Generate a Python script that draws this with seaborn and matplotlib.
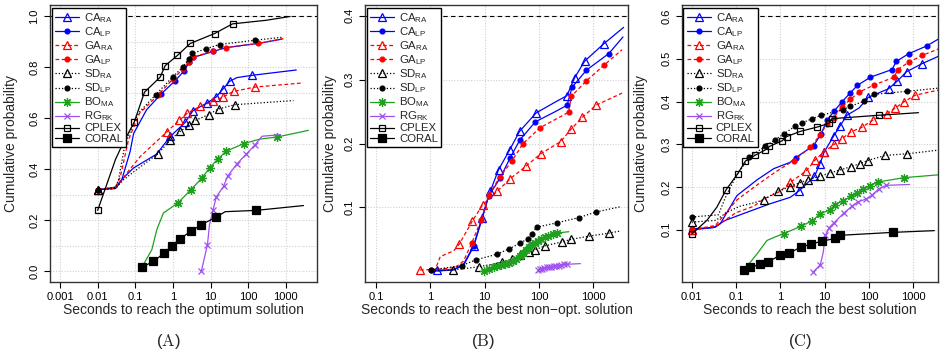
import matplotlib
matplotlib.use("Agg")
import matplotlib.pyplot as plt
from matplotlib.lines import Line2D
from matplotlib.ticker import FixedLocator, NullLocator
import seaborn as sns

# ---------------- data ----------------
series_names = ["CA_RA", "CA_LP", "GA_RA", "GA_LP", "SD_RA", "SD_LP", "BO_MA", "RG_RK", "CPLEX", "CORAL"]
legend_labels = [r"CA$_{RA}$", r"CA$_{LP}$", r"GA$_{RA}$", r"GA$_{LP}$", r"SD$_{RA}$",
                 r"SD$_{LP}$", r"BO$_{MA}$", r"RG$_{RK}$", "CPLEX", "CORAL"]

# (A) seconds to reach the optimum solution
a_ca_ra_x = [0.01, 0.03, 0.044, 0.089, 0.37, 0.85, 2.12, 3.4, 8.0, 14.2, 21.3, 32, 50, 126, 1900]
a_ca_ra_y = [0.32, 0.325, 0.36, 0.405, 0.46, 0.529, 0.584, 0.630, 0.660, 0.684, 0.715, 0.745, 0.76, 0.769, 0.79]
a_ca_ra_m = [0, 5, 6, 7, 8, 9, 10, 11, 13]
a_ca_lp_x = [0.01, 0.03, 0.044, 0.073, 0.09, 0.2, 0.49, 1.15, 2.0, 2.7, 3.4, 12, 26, 182, 790]
a_ca_lp_y = [0.32, 0.33, 0.36, 0.47, 0.54, 0.634, 0.696, 0.748, 0.787, 0.821, 0.839, 0.863, 0.878, 0.894, 0.911]
a_ca_lp_m = [0, 6, 7, 8, 9, 10, 11]
a_ga_ra_x = [0.01, 0.03, 0.06, 0.135, 0.69, 1.47, 2.44, 5.3, 12, 21.4, 41, 155, 2700]
a_ga_ra_y = [0.32, 0.325, 0.386, 0.45, 0.547, 0.592, 0.621, 0.647, 0.667, 0.684, 0.706, 0.723, 0.739]
a_ga_ra_m = [0, 4, 5, 6, 7, 8, 9, 10, 11]
a_ga_lp_x = [0.01, 0.03, 0.04, 0.066, 0.13, 0.41, 1.02, 1.88, 2.7, 3.4, 12, 26, 182, 860]
a_ga_lp_y = [0.32, 0.33, 0.37, 0.516, 0.62, 0.693, 0.756, 0.795, 0.822, 0.84, 0.865, 0.878, 0.894, 0.913]
a_ga_lp_m = [0, 5, 6, 7, 8, 9, 10, 11, 12]
a_sd_ra_x = [0.01, 0.03, 0.045, 0.1, 0.41, 0.85, 1.56, 2.7, 3.9, 8.9, 16.3, 45, 1600]
a_sd_ra_y = [0.32, 0.325, 0.355, 0.395, 0.462, 0.516, 0.549, 0.573, 0.592, 0.615, 0.637, 0.654, 0.67]
a_sd_ra_m = [0, 4, 5, 6, 7, 8, 9, 10, 11]
a_sd_lp_x = [0.01, 0.03, 0.036, 0.054, 0.12, 0.35, 0.98, 1.85, 2.6, 3.3, 7.5, 17.4, 155, 870]
a_sd_lp_y = [0.32, 0.33, 0.36, 0.503, 0.62, 0.693, 0.762, 0.802, 0.833, 0.855, 0.873, 0.89, 0.907, 0.919]
a_sd_lp_m = [0, 5, 6, 7, 8, 9, 10, 11, 12]
a_bo_ma_x = [0.15, 0.276, 0.375, 0.56, 1.36, 3.0, 5.9, 9.4, 15.8, 26, 76, 209, 585, 4000]
a_bo_ma_y = [0.016, 0.085, 0.164, 0.229, 0.268, 0.32, 0.366, 0.405, 0.441, 0.471, 0.501, 0.519, 0.527, 0.553]
a_bo_ma_m = [0, 4, 5, 6, 7, 8, 9, 10, 12]
a_rg_rk_x = [5.7, 8.3, 9.4, 11.6, 14.2, 22.2, 28.4, 50, 89, 154, 233, 710]
a_rg_rk_y = [0.0, 0.105, 0.183, 0.239, 0.292, 0.333, 0.373, 0.421, 0.46, 0.497, 0.53, 0.536]
a_rg_rk_m = [0, 1, 3, 4, 5, 6, 7, 8, 9]
a_cplex_x = [0.01, 0.03, 0.05, 0.093, 0.176, 0.459, 0.624, 1.32, 2.89, 12.8, 38.5, 300, 1300]
a_cplex_y = [0.239, 0.44, 0.51, 0.584, 0.703, 0.762, 0.807, 0.847, 0.894, 0.933, 0.971, 0.985, 1.0]
a_cplex_m = [0, 3, 4, 5, 6, 7, 8, 9, 10]
a_coral_x = [0.15, 0.305, 0.59, 0.94, 1.56, 3.0, 5.7, 14.2, 24.6, 162, 2960]
a_coral_y = [0.016, 0.039, 0.072, 0.101, 0.128, 0.157, 0.183, 0.213, 0.234, 0.239, 0.258]
a_coral_m = [0, 1, 2, 3, 4, 5, 6, 7, 9]

# (B) seconds to reach the best non-optimal solution
b_ca_ra_x = [1.05, 1.36, 2.6, 4.1, 6.3, 8.95, 12.7, 18.1, 28.9, 44, 89, 200, 328, 454, 695, 1550, 3630]
b_ca_ra_y = [0.0, 0.002, 0.002, 0.011, 0.04, 0.084, 0.125, 0.159, 0.19, 0.219, 0.248, 0.265, 0.275, 0.303, 0.329, 0.356, 0.382]
b_ca_ra_m = [1, 4, 5, 6, 7, 8, 9, 10, 12, 13, 14, 15]
b_ca_lp_x = [1.05, 2.6, 4.1, 6.3, 8.95, 11.9, 19.4, 29.7, 45, 86, 200, 330, 407, 750, 1940, 3530]
b_ca_lp_y = [0.0, 0.002, 0.009, 0.039, 0.081, 0.118, 0.146, 0.178, 0.206, 0.234, 0.25, 0.26, 0.288, 0.315, 0.341, 0.367]
b_ca_lp_m = [3, 5, 6, 7, 8, 9, 11, 12, 13, 14]
b_ga_ra_x = [0.65, 1.24, 1.53, 2.7, 3.46, 5.9, 9.2, 16.9, 29.7, 58.6, 108, 251, 395, 631, 1120, 3390]
b_ga_ra_y = [0.002, 0.003, 0.023, 0.032, 0.043, 0.078, 0.104, 0.125, 0.145, 0.165, 0.184, 0.203, 0.223, 0.241, 0.26, 0.279]
b_ga_ra_m = [0, 4, 5, 6, 7, 8, 9, 10, 11, 12, 13, 14]
b_ga_lp_x = [1.03, 2.9, 4.1, 5.8, 8.7, 11.9, 18.9, 32, 51, 106, 352, 395, 746, 1590, 3390]
b_ga_lp_y = [0.002, 0.006, 0.016, 0.044, 0.081, 0.119, 0.147, 0.173, 0.2, 0.225, 0.249, 0.274, 0.298, 0.323, 0.347]
b_ga_lp_m = [0, 3, 4, 5, 6, 7, 8, 9, 10, 11, 12, 13]
b_sd_ra_x = [1.05, 2.6, 7.8, 21, 32, 45, 65, 86, 131, 267, 390, 850, 1990, 3160]
b_sd_ra_y = [0.0, 0.002, 0.007, 0.014, 0.019, 0.025, 0.03, 0.034, 0.04, 0.046, 0.05, 0.055, 0.06, 0.063]
b_sd_ra_m = [1, 2, 3, 4, 5, 6, 7, 8, 9, 10, 11, 12]
b_sd_lp_x = [1.03, 3.84, 7.0, 17.3, 28, 45, 62, 75, 91, 216, 540, 1140, 3160]
b_sd_lp_y = [0.002, 0.009, 0.018, 0.027, 0.035, 0.044, 0.051, 0.059, 0.069, 0.076, 0.084, 0.093, 0.101]
b_sd_lp_m = [0, 1, 2, 3, 4, 5, 6, 7, 8, 9, 10, 11]
b_bo_ma_x = [9.6, 12, 15, 17, 20, 24, 28, 33, 38, 45, 50, 58, 66, 75, 85, 95, 110, 130, 150, 180, 220, 355]
b_bo_ma_y = [0.0, 0.003, 0.006, 0.008, 0.01, 0.012, 0.013, 0.016, 0.02, 0.024, 0.028, 0.033, 0.038,
             0.042, 0.045, 0.047, 0.05, 0.054, 0.056, 0.058, 0.06, 0.062]
b_bo_ma_m = list(range(21))
b_rg_rk_x = [95, 105, 115, 125, 140, 155, 170, 190, 210, 235, 260, 290, 330, 580]
b_rg_rk_y = [0.002, 0.003, 0.004, 0.005, 0.006, 0.006, 0.007, 0.008, 0.008, 0.009, 0.01, 0.011, 0.011, 0.012]
b_rg_rk_m = list(range(13))

# (C) seconds to reach the best solution
c_ca_ra_x = [0.01, 0.031, 0.057, 0.177, 0.59, 1.68, 2.64, 5.9, 7.9, 9.8, 15.9, 22.6, 32, 60, 97, 278, 437, 710, 1600, 4100]
c_ca_ra_y = [0.1, 0.105, 0.122, 0.141, 0.161, 0.176, 0.191, 0.225, 0.255, 0.282, 0.319, 0.344, 0.368, 0.385,
             0.41, 0.43, 0.448, 0.47, 0.489, 0.508]
c_ca_ra_m = [0, 6, 7, 8, 9, 10, 11, 12, 14, 15, 16, 17, 18]
c_ca_lp_x = [0.01, 0.034, 0.044, 0.105, 0.3, 0.71, 1.68, 2.24, 5.65, 8.2, 11.3, 16.5, 25, 37, 55, 108, 333,
             415, 790, 2000, 4100]
c_ca_lp_y = [0.102, 0.106, 0.114, 0.18, 0.217, 0.243, 0.258, 0.269, 0.297, 0.323, 0.356, 0.378, 0.4, 0.419,
             0.438, 0.457, 0.475, 0.494, 0.512, 0.53, 0.549]
c_ca_lp_m = [0, 7, 8, 9, 10, 11, 12, 13, 14, 15, 16, 17, 18, 19]
c_ga_ra_x = [0.01, 0.035, 0.1, 0.25, 0.42, 1.0, 1.68, 3.86, 6.2, 9.6, 16.5, 24.7, 39, 70, 123, 258, 395, 630, 1120, 4100]
c_ga_ra_y = [0.1, 0.108, 0.14, 0.155, 0.172, 0.19, 0.211, 0.238, 0.264, 0.282, 0.3, 0.313, 0.329, 0.34,
             0.357, 0.372, 0.385, 0.4, 0.415, 0.428]
c_ga_ra_m = [0, 6, 7, 8, 9, 10, 11, 12, 13, 14, 15, 16, 17, 18]
c_ga_lp_x = [0.01, 0.034, 0.105, 0.3, 0.77, 2.0, 4.75, 7.8, 11.3, 16, 24.7, 38, 60, 131, 370, 450, 790, 1590, 4100]
c_ga_lp_y = [0.1, 0.11, 0.17, 0.205, 0.235, 0.262, 0.293, 0.321, 0.348, 0.362, 0.387, 0.405, 0.422, 0.439,
             0.457, 0.475, 0.492, 0.508, 0.525]
c_ga_lp_m = [0, 5, 6, 7, 8, 9, 10, 11, 12, 13, 14, 15, 16, 17]
c_sd_ra_x = [0.01, 0.035, 0.06, 0.12, 0.25, 0.42, 0.87, 1.68, 2.73, 4.2, 7.7, 13.4, 22.6, 39.5, 64, 93, 235, 740, 3460]
c_sd_ra_y = [0.118, 0.122, 0.14, 0.155, 0.163, 0.17, 0.19, 0.201, 0.21, 0.217, 0.225, 0.233, 0.24, 0.248,
             0.255, 0.262, 0.274, 0.278, 0.286]
c_sd_ra_m = [0, 5, 6, 7, 8, 9, 10, 11, 12, 13, 14, 15, 16, 17]
c_sd_lp_x = [0.01, 0.04, 0.06, 0.1, 0.2, 0.45, 0.75, 1.23, 2.2, 3.1, 5.2, 8.4, 26, 38, 79, 132, 725, 4100]
c_sd_lp_y = [0.13, 0.135, 0.18, 0.225, 0.27, 0.295, 0.31, 0.325, 0.343, 0.35, 0.36, 0.368, 0.381, 0.389,
             0.401, 0.417, 0.424, 0.432]
c_sd_lp_m = [0, 4, 5, 6, 7, 8, 9, 10, 11, 12, 13, 14, 15, 16]
c_bo_ma_x = [0.149, 0.3, 0.5, 0.75, 1.2, 2.87, 5.3, 7.8, 13.4, 17, 26, 40, 55, 74, 107, 163, 630, 4100]
c_bo_ma_y = [0.005, 0.044, 0.075, 0.083, 0.091, 0.108, 0.121, 0.137, 0.147, 0.159, 0.168, 0.178, 0.187,
             0.195, 0.203, 0.212, 0.222, 0.229]
c_bo_ma_m = [4, 5, 6, 7, 8, 9, 10, 11, 12, 13, 14, 15, 16]
c_rg_rk_x = [5.5, 8.0, 9.3, 10.4, 12.7, 16.5, 27.8, 41, 56, 87, 117, 167, 246, 830]
c_rg_rk_y = [0.001, 0.018, 0.047, 0.087, 0.105, 0.117, 0.14, 0.155, 0.165, 0.172, 0.181, 0.196, 0.204, 0.206]
c_rg_rk_m = [0, 1, 3, 4, 5, 6, 7, 8, 9, 10, 11, 12]
c_cplex_x = [0.01, 0.022, 0.037, 0.06, 0.109, 0.163, 0.266, 0.46, 0.57, 1.09, 1.39, 2.77, 6.6, 12.5, 14.7, 166, 1320]
c_cplex_y = [0.09, 0.122, 0.153, 0.194, 0.231, 0.261, 0.274, 0.287, 0.295, 0.308, 0.318, 0.33, 0.34, 0.349,
             0.36, 0.368, 0.374]
c_cplex_m = [0, 3, 4, 5, 6, 7, 8, 9, 10, 11, 12, 13, 14, 15]
c_coral_x = [0.151, 0.21, 0.34, 0.54, 0.96, 1.54, 3.0, 5.06, 8.6, 17.5, 21.7, 355, 3000]
c_coral_y = [0.005, 0.012, 0.019, 0.025, 0.04, 0.045, 0.06, 0.067, 0.073, 0.08, 0.087, 0.094, 0.098]
c_coral_m = list(range(12))

# ---------------- styles ----------------
BLUE, RED, GREEN, PURPLE = "#0000FF", "#FF0000", "#1FA01F", "#A050EE"
DOT = (0, (1, 1.6))
DASH = (0, (3, 2))
styles = {
    "CA_RA": dict(color=BLUE, ls="-", marker="^", filled=False, ms=5.5),
    "CA_LP": dict(color=BLUE, ls="-", marker="o", filled=True, ms=3.5),
    "GA_RA": dict(color=RED, ls=DASH, marker="^", filled=False, ms=5.5),
    "GA_LP": dict(color=RED, ls=DASH, marker="o", filled=True, ms=3.5),
    "SD_RA": dict(color="black", ls=DOT, marker="^", filled=False, ms=5.5),
    "SD_LP": dict(color="black", ls=DOT, marker="o", filled=True, ms=3.5),
    "BO_MA": dict(color=GREEN, ls="-", marker=(8, 2, 0), filled=True, ms=6.5),
    "RG_RK": dict(color=PURPLE, ls="-", marker="x", filled=True, ms=5),
    "CPLEX": dict(color="black", ls="-", marker="s", filled=False, ms=4.5),
    "CORAL": dict(color="black", ls="-", marker="s", filled=True, ms=5.5),
}

panels = [
    dict(tag="(A)", tag_x=168, pos=(50, 267),
         xlabel="Seconds to reach the optimum solution",
         xlim=(10 ** -3.266, 10 ** 3.83), ylim=(-0.04, 1.045),
         xticks=[1e-3, 1e-2, 1e-1, 1, 10, 100, 1000],
         xlabels=["0.001", "0.01", "0.1", "1", "10", "100", "1000"],
         yticks=[0.0, 0.2, 0.4, 0.6, 0.8, 1.0], ygrid=[i / 10 for i in range(11)], ref=1.0, ylab_x=-0.12,
         data={"CA_RA": (a_ca_ra_x, a_ca_ra_y, a_ca_ra_m), "CA_LP": (a_ca_lp_x, a_ca_lp_y, a_ca_lp_m),
               "GA_RA": (a_ga_ra_x, a_ga_ra_y, a_ga_ra_m), "GA_LP": (a_ga_lp_x, a_ga_lp_y, a_ga_lp_m),
               "SD_RA": (a_sd_ra_x, a_sd_ra_y, a_sd_ra_m), "SD_LP": (a_sd_lp_x, a_sd_lp_y, a_sd_lp_m),
               "BO_MA": (a_bo_ma_x, a_bo_ma_y, a_bo_ma_m), "RG_RK": (a_rg_rk_x, a_rg_rk_y, a_rg_rk_m),
               "CPLEX": (a_cplex_x, a_cplex_y, a_cplex_m), "CORAL": (a_coral_x, a_coral_y, a_coral_m)}),
    dict(tag="(B)", tag_x=483, pos=(365, 263),
         xlabel="Seconds to reach the best non\u2212opt. solution",
         xlim=(10 ** -1.2, 10 ** 3.64), ylim=(-0.016, 0.417),
         xticks=[0.1, 1, 10, 100, 1000], xlabels=["0.1", "1", "10", "100", "1000"],
         yticks=[0.1, 0.2, 0.3, 0.4], ygrid=[0.1, 0.2, 0.3, 0.4], ref=0.4, ylab_x=-0.108,
         data={"CA_RA": (b_ca_ra_x, b_ca_ra_y, b_ca_ra_m), "CA_LP": (b_ca_lp_x, b_ca_lp_y, b_ca_lp_m),
               "GA_RA": (b_ga_ra_x, b_ga_ra_y, b_ga_ra_m), "GA_LP": (b_ga_lp_x, b_ga_lp_y, b_ga_lp_m),
               "SD_RA": (b_sd_ra_x, b_sd_ra_y, b_sd_ra_m), "SD_LP": (b_sd_lp_x, b_sd_lp_y, b_sd_lp_m),
               "BO_MA": (b_bo_ma_x, b_bo_ma_y, b_bo_ma_m), "RG_RK": (b_rg_rk_x, b_rg_rk_y, b_rg_rk_m)}),
    dict(tag="(C)", tag_x=800, pos=(681.7, 256.3),
         xlabel="Seconds to reach the best solution",
         xlim=(10 ** -2.226, 10 ** 3.56), ylim=(-0.021, 0.626),
         xticks=[1e-2, 1e-1, 1, 10, 100, 1000], xlabels=["0.01", "0.1", "1", "10", "100", "1000"],
         yticks=[0.1, 0.2, 0.3, 0.4, 0.5, 0.6], ygrid=[0.1, 0.2, 0.3, 0.4, 0.5, 0.6], ref=0.6, ylab_x=-0.13,
         data={"CA_RA": (c_ca_ra_x, c_ca_ra_y, c_ca_ra_m), "CA_LP": (c_ca_lp_x, c_ca_lp_y, c_ca_lp_m),
               "GA_RA": (c_ga_ra_x, c_ga_ra_y, c_ga_ra_m), "GA_LP": (c_ga_lp_x, c_ga_lp_y, c_ga_lp_m),
               "SD_RA": (c_sd_ra_x, c_sd_ra_y, c_sd_ra_m), "SD_LP": (c_sd_lp_x, c_sd_lp_y, c_sd_lp_m),
               "BO_MA": (c_bo_ma_x, c_bo_ma_y, c_bo_ma_m), "RG_RK": (c_rg_rk_x, c_rg_rk_y, c_rg_rk_m),
               "CPLEX": (c_cplex_x, c_cplex_y, c_cplex_m), "CORAL": (c_coral_x, c_coral_y, c_coral_m)}),
]

sns.set_theme(style="ticks")
plt.rcParams["font.family"] = ["Liberation Sans", "DejaVu Sans"]
plt.rcParams["mathtext.default"] = "regular"

W, H = 941, 358
fig = plt.figure(figsize=(W / 100, H / 100), dpi=100)


def style_kws(name):
    s = styles[name]
    return dict(color=s["color"], linestyle=s["ls"], lw=0.9, marker=s["marker"], ms=s["ms"],
                mfc=s["color"] if s["filled"] else "none", mec=s["color"], mew=0.9)


for p in panels:
    left, width = p["pos"]
    ax = fig.add_axes([left / W, 1 - 281.5 / H, width / W, 276.5 / H])
    ax.set_xscale("log")
    # grid
    for gx in p["xticks"]:
        ax.axvline(gx, color="#d0d0d0", lw=0.8, ls=(0, (1, 1.5)), zorder=0)
    for gy in p["ygrid"]:
        ax.axhline(gy, color="#d0d0d0", lw=0.8, ls=(0, (1, 1.5)), zorder=0)
    ax.axhline(p["ref"], color="black", lw=0.8, ls=(0, (4, 3)), zorder=1)

    for name, (xs, ys, marks) in p["data"].items():
        sns.lineplot(x=xs, y=ys, ax=ax, sort=False, estimator=None, legend=False,
                     markevery=marks, **style_kws(name))

    ax.set_xlim(*p["xlim"])
    ax.set_ylim(*p["ylim"])
    ax.xaxis.set_major_locator(FixedLocator(p["xticks"]))
    ax.xaxis.set_minor_locator(NullLocator())
    ax.set_xticklabels(p["xlabels"])
    ax.set_yticks(p["yticks"])
    ax.set_yticklabels([f"{v:.1f}" for v in p["yticks"]])
    ax.tick_params(axis="both", labelsize=8, length=4.5, width=0.8, pad=3, direction="out", colors="black")
    ax.tick_params(axis="y", labelrotation=90)
    for lab in ax.get_yticklabels():
        lab.set_va("center")
    for sp in ax.spines.values():
        sp.set_visible(True)
        sp.set_linewidth(1.0)
        sp.set_color("#333333")

    ax.set_xlabel(p["xlabel"], fontsize=10)
    ax.xaxis.set_label_coords(0.5, -0.078)
    ax.set_ylabel("Cumulative probability", fontsize=10)
    ax.yaxis.set_label_coords(p["ylab_x"], 0.5)

    handles = []
    for name in series_names:
        kw = style_kws(name)
        handles.append(Line2D([], [], **kw))
    leg = ax.legend(handles, legend_labels, loc="upper left", bbox_to_anchor=(0.006, 0.99),
                    borderaxespad=0, fontsize=8.2, frameon=True, fancybox=False, framealpha=1,
                    edgecolor="black", labelspacing=0.02, handlelength=2.1, handletextpad=0.45,
                    borderpad=0.3, handleheight=0.6)
    leg.get_frame().set_linewidth(1.0)

    fig.text(p["tag_x"] / W, 1 - 341.5 / H, r"$(\mathrm{" + p["tag"][1] + r"})$",
             math_fontfamily="cm", fontsize=12, ha="center", va="center")

fig.savefig("out.png", dpi=100)
